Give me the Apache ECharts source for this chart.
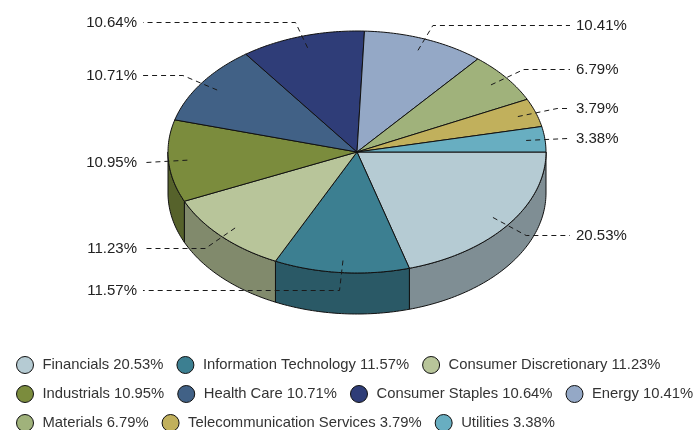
<!DOCTYPE html>
<html>
<head>
<meta charset="utf-8">
<script src="https://cdn.jsdelivr.net/npm/echarts@6/dist/echarts.min.js"></script>
<style>
  html, body { margin: 0; padding: 0; background: #fff; }
  #chart { width: 694px; height: 430px; }
</style>
</head>
<body>
<div id="chart"></div>
<script>
// Sector weights (%)
const categories = ['Financials', 'Information Technology', 'Consumer Discretionary', 'Industrials',
  'Health Care', 'Consumer Staples', 'Energy', 'Materials', 'Telecommunication Services', 'Utilities'];
const shares = [20.53, 11.57, 11.23, 10.95, 10.71, 10.64, 10.41, 6.79, 3.79, 3.38];

// Slice colours
const palette = ['#b5cbd3', '#3c7f91', '#b8c59a', '#7b8c3d', '#416186',
  '#2f3d78', '#94a8c6', '#a0b27b', '#c1b05c', '#68aec1'];

// Legend rows
const legendRows = [[0, 1, 2], [3, 4, 5, 6], [7, 8, 9]];

// Projected disc geometry
const CX = 357, CY = 152, RX = 189, RY = 121, DEPTH = 41;
const FONT = '"Liberation Sans", Arial, sans-serif';

const total = shares.reduce((a, b) => a + b, 0);
const starts = [];
shares.reduce((acc, v) => { starts.push(acc); return acc + v; }, 0);

function shade(hex, k) {
  const n = parseInt(hex.slice(1), 16);
  const r = Math.round(((n >> 16) & 255) * k);
  const g = Math.round(((n >> 8) & 255) * k);
  const b = Math.round((n & 255) * k);
  return 'rgb(' + r + ',' + g + ',' + b + ')';
}

function pt(deg, r, dy) {
  const t = deg * Math.PI / 180;
  return [CX + RX * r * Math.cos(t), CY + RY * r * Math.sin(t) + (dy || 0)];
}

function arc(a1, a2, dy) {
  const pts = [];
  const n = Math.max(2, Math.ceil(Math.abs(a2 - a1)));
  for (let k = 0; k <= n; k++) pts.push(pt(a1 + (a2 - a1) * k / n, 1, dy));
  return pts;
}

function renderSlice(params, api) {
  const i = params.dataIndex;
  const value = api.value(0);
  const a1 = starts[i] / total * 360;
  const a2 = a1 + value / total * 360;
  const color = palette[i];
  const children = [];

  // front wall (visible only for the lower half of the disc)
  const s1 = Math.max(a1, 0), s2 = Math.min(a2, 180);
  if (s2 > s1) {
    const pts = arc(s1, s2, 0).concat(arc(s1, s2, DEPTH).reverse());
    children.push({
      type: 'polygon', z2: 1,
      shape: { points: pts },
      style: { fill: shade(color, 0.7), stroke: '#111', lineWidth: 1 }
    });
  }

  // top face
  children.push({
    type: 'polygon', z2: 2,
    shape: { points: [[CX, CY]].concat(arc(a1, a2, 0)) },
    style: { fill: color, stroke: '#111', lineWidth: 1, lineJoin: 'round' }
  });

  // leader line and value label
  const mid = (a1 + a2) / 2;
  const sinM = Math.sin(mid * Math.PI / 180);
  const inner = pt(mid, 0.9);
  const elbow = pt(mid, 1.12, sinM > 0 ? 2.5 * sinM : 0);
  elbow[1] = Math.round(elbow[1]) + 0.5;
  const right = Math.cos(mid * Math.PI / 180) >= 0;
  const endX = right ? 570 : 143;
  children.push({
    type: 'polyline', z2: 3,
    shape: { points: [inner, elbow, [endX, elbow[1]]] },
    style: { stroke: '#1a1a1a', lineWidth: 1, lineDash: [5, 4], fill: null }
  });
  children.push({
    type: 'text', z2: 4,
    x: right ? 576 : 137, y: elbow[1],
    style: {
      text: value.toFixed(2) + '%',
      fill: '#222',
      font: '15px ' + FONT,
      align: right ? 'left' : 'right',
      verticalAlign: 'middle'
    }
  });

  return { type: 'group', children: children };
}

const legendTops = [356, 385, 414];
const legends = legendRows.map((row, r) => ({
  data: row.map(i => categories[i]),
  left: 16,
  top: legendTops[r],
  width: 720,
  padding: 0,
  orient: 'horizontal',
  icon: 'circle',
  itemWidth: 17,
  itemHeight: 17,
  itemGap: 13,
  selectedMode: false,
  itemStyle: { borderColor: '#111', borderWidth: 1 },
  textStyle: { color: '#333', fontSize: 14.8, fontFamily: FONT, padding: [0, 0, 0, 4] },
  formatter: name => name + ' ' + shares[categories.indexOf(name)].toFixed(2) + '%'
}));

const chart = echarts.init(document.getElementById('chart'), null, { renderer: 'canvas' });
chart.setOption({
  animation: false,
  backgroundColor: '#fff',
  legend: legends,
  series: [
    {
      // supplies legend entries; placed outside the canvas
      type: 'pie',
      center: [-2000, -2000],
      radius: 5,
      silent: true,
      label: { show: false },
      labelLine: { show: false },
      data: categories.map((c, i) => ({ name: c, value: shares[i], itemStyle: { color: palette[i] } }))
    },
    {
      type: 'custom',
      coordinateSystem: 'none',
      silent: true,
      data: shares.map(v => [v]),
      renderItem: renderSlice
    }
  ]
});
</script>
</body>
</html>
